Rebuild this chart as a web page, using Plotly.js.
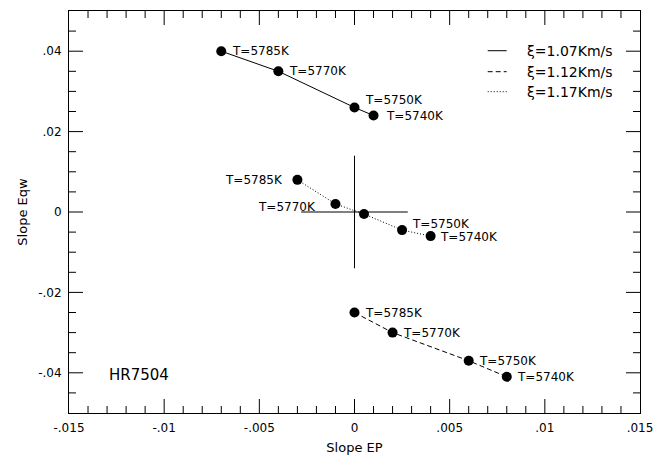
<!DOCTYPE html>
<html>
<head>
<meta charset="utf-8">
<script src="https://cdn.plot.ly/plotly-3.0.1.min.js"></script>
<style>html,body{margin:0;padding:0;background:#fff;}#chart{width:665px;height:455px;}</style>
</head>
<body>
<div id="chart"></div>
<script>
// ---- data ----
const solidX = [-0.007, -0.004, 0.0, 0.001];
const solidY = [0.040, 0.035, 0.026, 0.024];
const solidLabels = ['T=5785K', 'T=5770K', 'T=5750K', 'T=5740K'];

const dashX = [0.0, 0.002, 0.006, 0.008];
const dashY = [-0.025, -0.030, -0.037, -0.041];
const dashLabels = ['T=5785K', 'T=5770K', 'T=5750K', 'T=5740K'];

const dotX = [-0.003, -0.001, 0.0005, 0.0025, 0.004];
const dotY = [0.008, 0.002, -0.0005, -0.0045, -0.006];
const dotLabels = ['T=5785K', 'T=5770K', '', 'T=5750K', 'T=5740K'];

const crossX = [0];
const crossY = [0];
const crossErrX = [0.0028];
const crossErrY = [0.014];

const legendNames = ['\u03BE=1.07Km/s', '\u03BE=1.12Km/s', '\u03BE=1.17Km/s'];
const legendDash = ['solid', '5px,3px', '1px,2px'];

const xRange = [-0.015, 0.015];
const yRange = [-0.05, 0.05];
const xTickVals = [-0.015, -0.01, -0.005, 0, 0.005, 0.01, 0.015];
const xTickText = ['-.015', '-.01', '-.005', '0', '.005', '.01', '.015'];
const yTickVals = [-0.04, -0.02, 0, 0.02, 0.04];
const yTickText = ['-.04', '-.02', '0', '.02', '.04'];
const xMinorStep = 0.001;
const yMinorStep = 0.005;

const starName = 'HR7504';

// ---- label placement (pixel offsets) ----
const solidShift = [[10, 0, 'left'], [10, 0, 'left'], [9, 7, 'left'], [11, 0, 'left']];
const dashShift = [[9, 0, 'left'], [9, 0, 'left'], [9, 0, 'left'], [9, 0, 'left']];
const dotShift = [[-13, 0, 'right'], [-18, -3, 'right'], [0, 0, 'left'], [9, 6, 'left'], [8, -1, 'left']];

const FONT = 'DejaVu Sans, Arial, sans-serif';
const W = 665, H = 455;
const M = {l: 69, r: 25, t: 11, b: 42};

function series(x, y, dash) {
  return {
    x: x, y: y, type: 'scatter', mode: 'lines+markers',
    line: {color: '#000', width: 1, dash: dash},
    marker: {color: '#000', size: 10},
    showlegend: false, hoverinfo: 'skip'
  };
}

// inside tick marks on all four sides, built from the tick arrays on the axis scales
const xPerPx = (xRange[1] - xRange[0]) / (W - M.l - M.r);
const yPerPx = (yRange[1] - yRange[0]) / (H - M.t - M.b);
const MAJ = 14, MIN = 7;
function isMajor(v, vals) { return vals.some(t => Math.abs(t - v) < 1e-9); }
const tickX = [], tickY = [];
const nx = Math.round((xRange[1] - xRange[0]) / xMinorStep);
for (let i = 1; i < nx; i++) {
  const v = xRange[0] + i * xMinorStep;
  const len = (isMajor(v, xTickVals) ? MAJ : MIN) * yPerPx;
  tickX.push(v, v, null, v, v, null);
  tickY.push(yRange[0], yRange[0] + len, null, yRange[1], yRange[1] - len, null);
}
const ny = Math.round((yRange[1] - yRange[0]) / yMinorStep);
for (let i = 1; i < ny; i++) {
  const v = yRange[0] + i * yMinorStep;
  const len = (isMajor(v, yTickVals) ? MAJ : MIN) * xPerPx;
  tickX.push(xRange[0], xRange[0] + len, null, xRange[1], xRange[1] - len, null);
  tickY.push(v, v, null, v, v, null);
}

const traces = [
  {x: tickX, y: tickY, type: 'scatter', mode: 'lines', line: {color: '#000', width: 1},
   connectgaps: false, showlegend: false, hoverinfo: 'skip'},
  {
    x: crossX, y: crossY, type: 'scatter', mode: 'markers',
    marker: {color: 'rgba(0,0,0,0)', size: 1},
    error_x: {type: 'data', array: crossErrX, visible: true, width: 0, thickness: 1, color: '#000'},
    error_y: {type: 'data', array: crossErrY, visible: true, width: 0, thickness: 1, color: '#000'},
    showlegend: false, hoverinfo: 'skip'
  },
  series(solidX, solidY, 'solid'),
  series(dashX, dashY, '5px,3px'),
  series(dotX, dotY, '1px,2px')
];

const annotations = [];
function addLabels(x, y, labels, shifts) {
  for (let i = 0; i < x.length; i++) {
    if (!labels[i]) continue;
    annotations.push({
      x: x[i], y: y[i], xref: 'x', yref: 'y', text: labels[i], showarrow: false,
      xanchor: shifts[i][2], yanchor: 'middle', xshift: shifts[i][0], yshift: shifts[i][1],
      font: {family: FONT, size: 12, color: '#000'}, borderpad: 0
    });
  }
}
addLabels(solidX, solidY, solidLabels, solidShift);
addLabels(dashX, dashY, dashLabels, dashShift);
addLabels(dotX, dotY, dotLabels, dotShift);

const shapes = [];
// legend (drawn manually)
const legY = [0.9012, 0.849, 0.7993];
for (let i = 0; i < legendNames.length; i++) {
  shapes.push({type: 'line', xref: 'paper', yref: 'paper', x0: 0.7333, x1: 0.7665, y0: legY[i], y1: legY[i],
    line: {color: '#000', width: 1, dash: legendDash[i]}});
  annotations.push({xref: 'paper', yref: 'paper', x: 0.8004, y: legY[i], text: legendNames[i], showarrow: false,
    xanchor: 'left', yanchor: 'middle', borderpad: 0, font: {family: FONT, size: 14, color: '#000'}});
}
annotations.push({xref: 'paper', yref: 'paper', x: 0.0683, y: 0.0945, text: starName, showarrow: false,
  xanchor: 'left', yanchor: 'middle', borderpad: 0, font: {family: FONT, size: 15, color: '#000'}});

const axisCommon = {
  showline: true, linecolor: '#000', linewidth: 1, mirror: true,
  ticks: '', showgrid: false, zeroline: false, tickmode: 'array',
  tickfont: {family: FONT, size: 12, color: '#000'}
};

const layout = {
  width: W, height: H,
  margin: M,
  showlegend: false,
  xaxis: Object.assign({}, axisCommon, {
    range: xRange, tickvals: xTickVals, ticktext: xTickText,
    ticklabelstandoff: 4,
    title: {text: 'Slope EP', font: {family: FONT, size: 13, color: '#000'}, standoff: 10}
  }),
  yaxis: Object.assign({}, axisCommon, {
    range: yRange, tickvals: yTickVals, ticktext: yTickText,
    ticklabelstandoff: 4,
    title: {text: 'Slope Eqw', font: {family: FONT, size: 13, color: '#000'}, standoff: 7}
  }),
  shapes: shapes,
  annotations: annotations
};

Plotly.newPlot('chart', traces, layout, {staticPlot: true});
</script>
</body>
</html>
